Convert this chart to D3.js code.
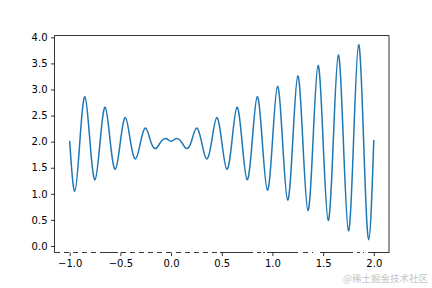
<!DOCTYPE html>
<html lang="en">
<head>
    <meta charset="UTF-8">
    <title>Oscillating curve</title>
    <script src="https://d3js.org/d3.v7.min.js"></script>
    <style>
        body {
            margin: 0;
            background: #fff;
        }
        svg text {
            font-family: "DejaVu Sans", sans-serif;
        }
    </style>
</head>
<body>
<div id="chart"></div>
<script>
    // values: midline crossings and turning points
    const xVals = [
        -1.00, -0.95, -0.90, -0.85, -0.80, -0.75, -0.70, -0.65, -0.60, -0.55,
        -0.50, -0.45, -0.40, -0.35, -0.30, -0.25, -0.20, -0.15, -0.10, -0.05,
        0.00, 0.05, 0.10, 0.15, 0.20, 0.25, 0.30, 0.35, 0.40, 0.45,
        0.50, 0.55, 0.60, 0.65, 0.70, 0.75, 0.80, 0.85, 0.90, 0.95,
        1.00, 1.05, 1.10, 1.15, 1.20, 1.25, 1.30, 1.35, 1.40, 1.45,
        1.50, 1.55, 1.60, 1.65, 1.70, 1.75, 1.80, 1.85, 1.90, 1.95,
        2.00
    ];
    const yVals = [
        2.00, 1.05, 2.00, 2.86, 2.00, 1.27, 2.00, 2.66, 2.00, 1.47,
        2.00, 2.46, 2.00, 1.67, 2.00, 2.26, 2.00, 1.87, 2.00, 2.06,
        2.01, 2.06, 2.00, 1.87, 2.00, 2.26, 2.00, 1.67, 2.00, 2.46,
        2.00, 1.47, 2.00, 2.66, 2.00, 1.27, 2.00, 2.86, 2.00, 1.07,
        2.00, 3.06, 2.00, 0.88, 2.00, 3.26, 2.00, 0.68, 2.00, 3.46,
        2.00, 0.49, 2.00, 3.66, 2.00, 0.29, 2.00, 3.86, 2.00, 0.12,
        2.02
    ];
    const xTicks = [-1.0, -0.5, 0.0, 0.5, 1.0, 1.5, 2.0];
    const yTicks = [0.0, 0.5, 1.0, 1.5, 2.0, 2.5, 3.0, 3.5, 4.0];

    const width = 432;
    const height = 288;
    const plotLeft = 54.5, plotRight = 389, plotTop = 35.5, plotBottom = 252.5;

    // broken bottom spine, drawn as pieces (pixel positions)
    const spinePieces = [
        [54.5, 60], [64, 69], [73, 78], [82, 87], [91, 96], [100, 118],
        [121, 126], [130, 135], [139, 144], [148, 153], [157, 162], [166, 171],
        [176, 181], [185, 190], [194, 199], [203, 208], [212, 217], [220, 253],
        [257, 261], [263, 265], [267, 298], [303, 308], [312, 313], [320, 353],
        [357, 360], [363, 364], [368, 389.4]
    ];

    const svg = d3.select("#chart")
        .append("svg")
        .attr("width", width)
        .attr("height", height);

    svg.append("rect")
        .attr("width", width)
        .attr("height", height)
        .attr("fill", "#fff");

    const x = d3.scaleLinear().domain([-1.15, 2.15]).range([plotLeft, plotRight]);
    const y = d3.scaleLinear().domain([-0.125, 4.035]).range([plotBottom, plotTop]);

    const fmt = d3.format(".1f");

    const points = xVals.map((v, i) => [v, yVals[i]]);

    const line = d3.line()
        .x(d => x(d[0]))
        .y(d => y(d[1]))
        .curve(d3.curveNatural);

    svg.append("path")
        .datum(points)
        .attr("d", line)
        .attr("fill", "none")
        .attr("stroke", "#1f77b4")
        .attr("stroke-width", 1.5)
        .attr("stroke-linejoin", "round")
        .attr("stroke-linecap", "square");

    const yAxis = svg.append("g")
        .attr("transform", `translate(${plotLeft},0)`)
        .call(d3.axisLeft(y).tickValues(yTicks).tickFormat(fmt).tickSize(3.5).tickPadding(3.5));

    const xAxis = svg.append("g")
        .attr("transform", `translate(0,${plotBottom})`)
        .call(d3.axisBottom(x).tickValues(xTicks).tickFormat(fmt).tickSize(3.5).tickPadding(3.5));

    [yAxis, xAxis].forEach(g => {
        g.select(".domain").remove();
        g.selectAll(".tick line").attr("stroke", "#000").attr("stroke-width", 0.8);
        g.selectAll(".tick text")
            .attr("fill", "#000")
            .style("font-size", "10px")
            .style("font-family", "DejaVu Sans, sans-serif");
    });

    // spines
    const spines = svg.append("g")
        .attr("stroke", "#000")
        .attr("stroke-width", 0.8)
        .attr("fill", "none");

    spines.append("line").attr("x1", plotLeft).attr("x2", plotLeft).attr("y1", plotTop).attr("y2", plotBottom);
    spines.append("line").attr("x1", plotRight).attr("x2", plotRight).attr("y1", plotTop).attr("y2", plotBottom);
    spines.append("line").attr("x1", plotLeft).attr("x2", plotRight).attr("y1", plotTop).attr("y2", plotTop);

    spines.selectAll(".piece")
        .data(spinePieces)
        .enter()
        .append("line")
        .attr("class", "piece")
        .attr("x1", d => d[0])
        .attr("x2", d => d[1])
        .attr("y1", plotBottom)
        .attr("y2", plotBottom);

    // watermark
    svg.append("text")
        .attr("x", 428)
        .attr("y", 282)
        .attr("text-anchor", "end")
        .attr("fill", "#c4c4c4")
        .style("font-size", "9.5px")
        .style("font-family", "'Noto Sans CJK SC', sans-serif")
        .text("@稀土掘金技术社区");
</script>
</body>
</html>
